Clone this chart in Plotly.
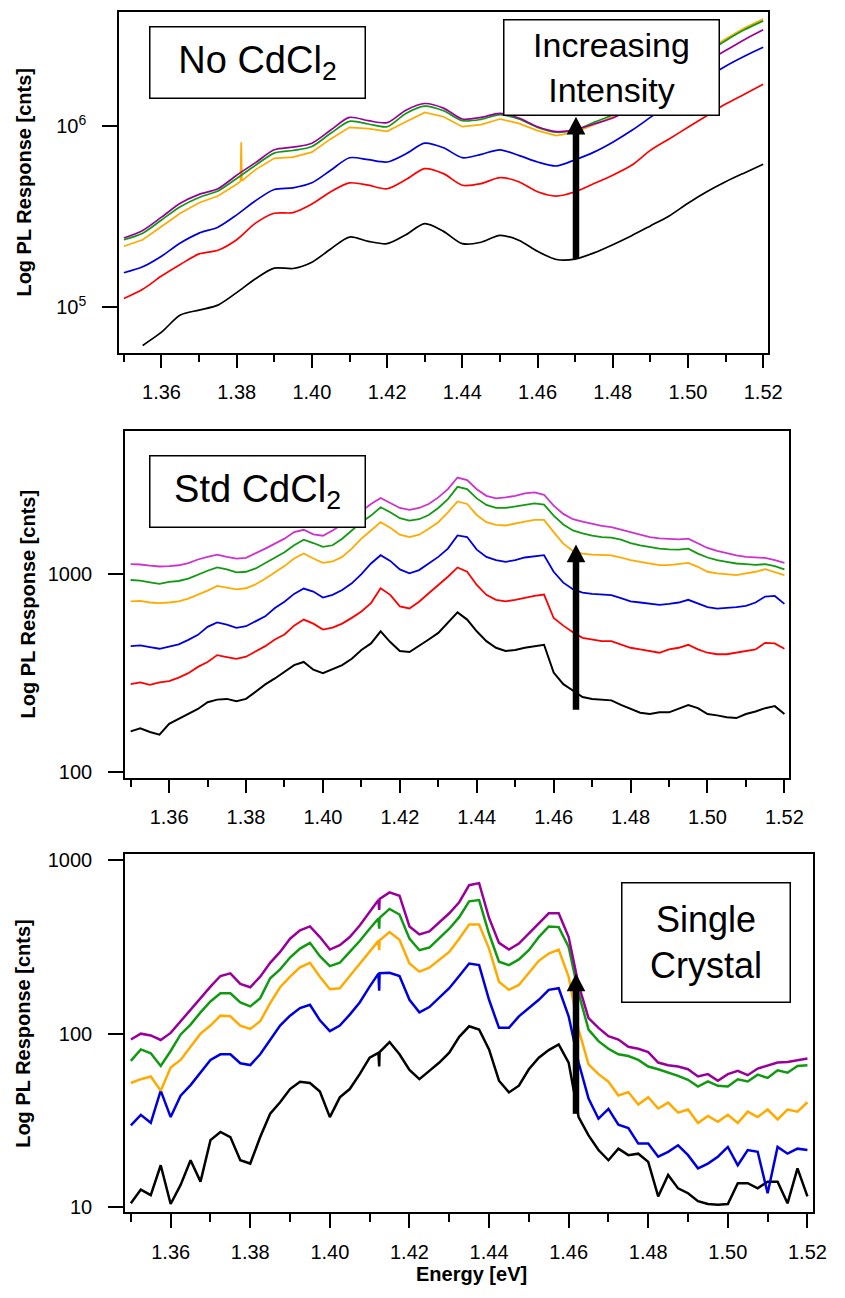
import plotly.graph_objects as go

# ---------------- data ----------------
# Panel 1 : No CdCl2  (energy grid, eV)
E1 = [1.350, 1.355, 1.360, 1.365, 1.370, 1.375, 1.380, 1.385, 1.390, 1.395,
      1.400, 1.405, 1.410, 1.415, 1.420, 1.425, 1.430, 1.435, 1.440, 1.445,
      1.450, 1.455, 1.460, 1.465, 1.470, 1.475, 1.480, 1.485, 1.490, 1.495,
      1.500, 1.505, 1.510, 1.515, 1.520]
black1 = [None, 61.7e3, 73.0e3, 90.8e3, 96.7e3, 103e3, 120.8e3, 144.1e3, 164.8e3, 164.1e3,
          177.8e3, 210.4e3, 244.7e3, 231.7e3, 224.9e3, 252e3, 290e3, 263e3, 225e3, 229e3,
          250e3, 235e3, 204e3, 184e3, 185e3, 200e3, 222e3, 249e3, 282e3, 320e3,
          376e3, 435e3, 494e3, 553e3, 617e3]
red1 = [112e3, 126e3, 149e3, 172.6e3, 197.5e3, 206.8e3, 236.6e3, 291.9e3, 331.1e3, 333.9e3,
        372.4e3, 435e3, 487e3, 473e3, 452e3, 508e3, 584e3, 548e3, 473e3, 483e3,
        521e3, 494e3, 435e3, 412e3, 435e3, 483e3, 537e3, 609e3, 736e3, 852e3,
        987e3, 1.144e6, 1.326e6, 1.503e6, 1.705e6]
blue1 = [155.4e3, 167.6e3, 191.8e3, 226.8e3, 257.3e3, 277.5e3, 324.3e3, 388.4e3, 448.1e3, 457.6e3,
         487.4e3, 571.8e3, 670.6e3, 654e3, 635e3, 705e3, 807e3, 761e3, 671e3, 700e3,
         742e3, 691e3, 635e3, 604e3, 654e3, 720e3, 817e3, 947e3, 1.12e6, 1.326e6,
         1.581e6, 1.854e6, 2.148e6, 2.437e6, 2.73e6]
orange1 = [217.5e3, 236.6e3, 280e3, 331e3, 378.7e3, 412e3, 479e3, 576.6e3, 665e3, 676e3,
           720e3, 852e3, 987e3, 970e3, 938e3, 1.06e6, 1.193e6, 1.129e6, 995e3, 1.021e6,
           1.097e6, 1.038e6, 947e3, 889e3, 927e3, 1.021e6, 1.129e6, 1.326e6, 1.555e6, 1.839e6,
           2.194e6, 2.618e6, 3.033e6, 3.484e6, 3.917e6]
green1 = [236.6e3, 257e3, 304e3, 360e3, 405e3, 439e3, 515e3, 609e3, 711e3, 735.5e3,
          774e3, 915e3, 1.065e6, 1.03e6, 995e3, 1.178e6, 1.292e6, 1.218e6, 1.074e6, 1.092e6,
          1.159e6, 1.097e6, 987e3, 927e3, 955e3, 1.052e6, 1.159e6, 1.336e6, 1.555e6, 1.816e6,
          2.148e6, 2.541e6, 2.97e6, 3.41e6, 3.82e6]
purple1 = [241.6e3, 266e3, 315e3, 375.7e3, 420.7e3, 452e3, 537e3, 630e3, 742e3, 767e3,
           807e3, 954e3, 1.12e6, 1.074e6, 1.047e6, 1.228e6, 1.336e6, 1.26e6, 1.097e6, 1.12e6,
           1.178e6, 1.111e6, 995e3, 935e3, 955e3, 1.03e6, 1.111e6, 1.26e6, 1.441e6, 1.67e6,
           1.95e6, 2.27e6, 2.618e6, 3.007e6, 3.41e6]
spike1_E = [1.3810, 1.3812, 1.3814]
spike1_orange = [497e3, 817e3, 500e3]

# Panel 2 : Std CdCl2
E2 = [1.3500, 1.3525, 1.3550, 1.3575, 1.3600, 1.3625, 1.3650, 1.3675, 1.3700, 1.3725,
      1.3750, 1.3775, 1.3800, 1.3825, 1.3850, 1.3875, 1.3900, 1.3925, 1.3950, 1.3975,
      1.4000, 1.4025, 1.4050, 1.4075, 1.4100, 1.4125, 1.4150, 1.4175, 1.4200, 1.4225,
      1.4250, 1.4275, 1.4300, 1.4325, 1.4350, 1.4375, 1.4400, 1.4425, 1.4450, 1.4475,
      1.4500, 1.4525, 1.4550, 1.4575, 1.4600, 1.4625, 1.4650, 1.4675, 1.4700, 1.4725,
      1.4750, 1.4775, 1.4800, 1.4825, 1.4850, 1.4875, 1.4900, 1.4925, 1.4950, 1.4975,
      1.5000, 1.5025, 1.5050, 1.5075, 1.5100, 1.5125, 1.5150, 1.5175, 1.5200]
black2 = [161, 167, 160, 155, 176, 186, 197, 209, 226, 233,
          235, 229, 235, 255, 278, 298, 322, 348, 361, 330,
          317, 332, 348, 375, 415, 448, 516, 455, 410, 405,
          434, 469, 506, 568, 643, 591, 516, 460, 426, 410,
          415, 426, 434, 441, 319, 279, 259, 240, 235, 233,
          231, 219, 209, 200, 197, 201, 201, 209, 219, 211,
          197, 194, 190, 188, 197, 203, 211, 216, 197]
red2 = [279, 285, 277, 285, 289, 301, 317, 341, 361, 391,
        382, 374, 384, 407, 434, 469, 497, 551, 591, 564,
        526, 539, 564, 603, 650, 716, 851, 788, 689, 673,
        727, 803, 884, 973, 1084, 1031, 884, 788, 744, 730,
        744, 764, 779, 791, 602, 551, 510, 478, 469, 460,
        460, 443, 426, 418, 410, 402, 418, 426, 441, 418,
        402, 395, 395, 402, 410, 418, 451, 448, 421]
blue2 = [434, 438, 429, 421, 432, 443, 467, 495, 543, 572,
         558, 537, 547, 577, 614, 676, 727, 797, 848, 819,
         764, 788, 834, 901, 1004, 1135, 1250, 1170, 1059, 1012,
         1051, 1135, 1226, 1349, 1574, 1544, 1334, 1226, 1180, 1157,
         1180, 1217, 1235, 1250, 1031, 908, 841, 809, 797, 788,
         785, 758, 730, 721, 710, 702, 710, 721, 744, 716,
         684, 671, 676, 684, 694, 721, 773, 778, 710]
orange2 = [730, 735, 721, 716, 721, 730, 755, 788, 828, 874,
           857, 841, 851, 891, 951, 1027, 1101, 1202, 1274, 1202,
           1144, 1162, 1226, 1349, 1515, 1667, 1835, 1719, 1586, 1544,
           1586, 1699, 1835, 2059, 2337, 2268, 1996, 1835, 1779, 1766,
           1813, 1849, 1886, 1886, 1636, 1430, 1314, 1274, 1259, 1249,
           1249, 1217, 1180, 1157, 1135, 1113, 1113, 1126, 1144, 1092,
           1031, 1012, 1004, 992, 1012, 1031, 1063, 1031, 992]
green2 = [937, 930, 912, 895, 916, 926, 951, 1000, 1043, 1084,
          1059, 1023, 1031, 1072, 1144, 1217, 1294, 1403, 1497, 1440,
          1376, 1403, 1515, 1667, 1835, 1982, 2182, 2059, 1922, 1870,
          1899, 1996, 2165, 2402, 2768, 2694, 2421, 2242, 2165, 2165,
          2199, 2251, 2286, 2251, 1982, 1786, 1667, 1611, 1568, 1544,
          1532, 1497, 1440, 1403, 1376, 1349, 1339, 1334, 1349, 1274,
          1217, 1180, 1157, 1135, 1126, 1118, 1126, 1101, 1059]
magenta2 = [1126, 1122, 1107, 1096, 1100, 1112, 1140, 1189, 1226, 1259,
            1226, 1202, 1211, 1274, 1349, 1430, 1515, 1636, 1680, 1592,
            1568, 1667, 1786, 1928, 2083, 2268, 2431, 2284, 2165, 2116,
            2165, 2268, 2449, 2694, 3085, 2993, 2694, 2494, 2421, 2449,
            2494, 2563, 2594, 2525, 2224, 2021, 1899, 1849, 1800, 1759,
            1733, 1680, 1630, 1580, 1544, 1520, 1515, 1502, 1515, 1430,
            1360, 1314, 1279, 1249, 1226, 1216, 1211, 1180, 1144]

# Panel 3 : Single Crystal
E3 = [1.3500, 1.3525, 1.3550, 1.3575, 1.3600, 1.3625, 1.3650, 1.3675, 1.3700, 1.3725,
      1.3750, 1.3775, 1.3800, 1.3825, 1.3850, 1.3875, 1.3900, 1.3925, 1.3950, 1.3975,
      1.4000, 1.4025, 1.4050, 1.4075, 1.4100, 1.4125, 1.4150, 1.4175, 1.4200, 1.4225,
      1.4250, 1.4275, 1.4300, 1.4325, 1.4350, 1.4375, 1.4400, 1.4425, 1.4450, 1.4475,
      1.4500, 1.4525, 1.4550, 1.4575, 1.4600, 1.4625, 1.4650, 1.4675, 1.4700, 1.4725,
      1.4750, 1.4775, 1.4800, 1.4825, 1.4850, 1.4875, 1.4900, 1.4925, 1.4950, 1.4975,
      1.5000, 1.5025, 1.5050, 1.5075, 1.5100, 1.5125, 1.5150, 1.5175, 1.5200]
black3 = [10.5, 12.6, 11.7, 17.4, 10.4, 13.4, 18.6, 14.0, 24.3, 27.1,
          25.3, 18.6, 17.8, 25.3, 34.5, 40.2, 47.9, 52.8, 51.9, 46.3,
          33.0, 42.9, 47.9, 58.4, 72.7, 78.3, 89.4, 76.0, 61.8, 54.6,
          61.0, 68.1, 77.7, 95.9, 110.3, 105.6, 81.1, 53.5, 45.8, 50.1,
          62.3, 72.7, 80.4, 86.7, 68.1, 33.0, 25.9, 21.3, 18.6, 21.7,
          19.9, 20.3, 18.2, 11.5, 15.3, 12.8, 12.0, 10.8, 10.4, 10.3,
          10.4, 13.7, 13.7, 12.8, 14.0, 14.0, 10.5, 16.7, 11.5]
blue3 = [29.6, 34.0, 30.6, 46.9, 33.0, 43.9, 50.5, 59.7, 70.5, 76.0,
         76.0, 67.5, 65.9, 76.0, 91.8, 111.3, 127, 140.4, 146.8, 119.4,
         103.3, 111.3, 128.7, 151.4, 186.9, 223, 224.7, 215.1, 156.8, 132.7,
         142.3, 160.3, 182.8, 215.1, 254, 248.6, 156.8, 108, 108, 125.9,
         140.4, 156.8, 178.9, 182.8, 126, 68.1, 42.2, 32.3, 36.8, 29.8,
         28.5, 23.2, 23.2, 19.5, 20.8, 22.7, 19.9, 16.7, 17.8, 19.5,
         22.2, 17.4, 21.3, 20.8, 12.0, 22.2, 20.3, 21.7, 21.3]
orange3 = [51.9, 54.6, 56.6, 46.9, 63.7, 70.5, 84.0, 100, 111.3, 127,
           125.9, 111.3, 106.5, 117.9, 150, 185.2, 213.2, 241.1, 256.4, 213.2,
           180.4, 182.8, 215.1, 252, 296.3, 345.5, 385.7, 348.5, 254, 227.8,
           240, 268, 296.3, 353.2, 426.6, 426.6, 309.6, 199.5, 178.9, 191,
           223, 263.2, 290, 305.5, 213, 105.6, 66.5, 58.4, 52.8, 44.0,
           46.0, 39.0, 43.0, 37.0, 40.0, 35.0, 36.5, 30.5, 33.5, 31.0,
           34.0, 30.5, 35.5, 33.0, 36.5, 32.0, 36.5, 35.5, 40.2]
green3 = [69.6, 81.1, 77.0, 65.1, 79.4, 98.9, 112.8, 132.7, 153.4, 171,
          171, 151.4, 143.6, 160.3, 208.6, 234.8, 275, 309.6, 334, 280,
          245.4, 256.4, 296.3, 342.4, 402.9, 465.8, 524.4, 486.7, 353.2, 303,
          313.8, 357.8, 402.9, 469.9, 580, 590, 377, 260, 248.6, 268,
          303, 361, 415.5, 412, 316, 171, 105.6, 90.5, 81.8, 76.0,
          74.3, 70.5, 64.6, 62.3, 59.7, 57.1, 54.2, 49.5, 53.0, 50.0,
          49.6, 54.5, 53.0, 58.0, 55.5, 61.5, 59.5, 65.0, 65.7]
purple3 = [92.5, 100, 97.7, 91.9, 101, 117.9, 137.4, 160.3, 186.9, 215.1,
           223, 193.5, 185.2, 213.2, 256.3, 296.3, 353.2, 394.2, 415.5, 361,
           305.5, 323.6, 361, 421, 502, 598, 653, 625, 415.5, 374,
           389, 440, 495, 573, 719, 739, 465, 334, 305.5, 331,
           377, 434, 495, 495, 361, 191, 123, 108, 96.8, 92.5,
           84.0, 81.8, 78.3, 68.1, 65.7, 64.6, 62.3, 56.6, 58.4, 53.5,
           58.4, 61.0, 57.6, 62.9, 65.7, 68.1, 68.7, 70.5, 71.8]
dip3_E = [1.4122, 1.4124]
dip3_black = [77.5, 64.6]
dip3_blue = [222, 177]
dip3_orange = [343, 303]
dip3_green = [462, 403]
dip3_purple = [590, 517]

# ---------------- styling ----------------
W, H = 845, 1298
FONT = "Arial, Liberation Sans, Helvetica, sans-serif"
C_BLACK, C_RED, C_BLUE = "#000000", "#ff0000", "#0000dd"
C_ORANGE, C_GREEN, C_PURPLE, C_MAGENTA = "#ffaa00", "#119911", "#990099", "#cc33cc"


def px(x):
    return x / W


def py(y):
    return 1 - y / H


def merged(E, vals, extraE, extraV):
    pts = sorted(list(zip(E, vals)) + list(zip(extraE, extraV)), key=lambda p: p[0])
    return [p[0] for p in pts], [p[1] for p in pts]


fig = go.Figure()


def add(x, y, color, width, ax, shape="linear"):
    line = dict(color=color, width=width, shape=shape)
    if shape == "spline":
        line["smoothing"] = 0.8
    fig.add_trace(go.Scatter(x=x, y=y, mode="lines", line=line,
                             xaxis="x" + ax, yaxis="y" + ax, hoverinfo="skip",
                             showlegend=False, connectgaps=False))


# panel 1 (smooth spectra)
lw1 = 1.7
add(E1, black1, C_BLACK, lw1, "", "spline")
add(E1, red1, C_RED, lw1, "", "spline")
add(E1, blue1, C_BLUE, lw1, "", "spline")
xo, yo = merged(E1, orange1, spike1_E, spike1_orange)
add(xo, yo, C_ORANGE, lw1, "")
add(E1, green1, C_GREEN, lw1, "", "spline")
add(E1, purple1, C_PURPLE, lw1, "", "spline")

# panel 2
lw2 = 1.8
add(E2, black2, C_BLACK, 2.0, "2")
add(E2, red2, C_RED, lw2, "2")
add(E2, blue2, C_BLUE, lw2, "2")
add(E2, orange2, C_ORANGE, lw2, "2")
add(E2, green2, C_GREEN, lw2, "2")
add(E2, magenta2, C_MAGENTA, lw2, "2")

# panel 3
lw3 = 2.5
for vals, dips, col in [(black3, dip3_black, C_BLACK), (blue3, dip3_blue, C_BLUE),
                        (orange3, dip3_orange, C_ORANGE), (green3, dip3_green, C_GREEN),
                        (purple3, dip3_purple, C_PURPLE)]:
    xx, yy = merged(E3, vals, dip3_E, dips)
    add(xx, yy, col, lw3, "3")

# ---------------- axes ----------------
tickfont = dict(family=FONT, size=20, color="black")


def xaxis(dom, rng, anchor):
    return dict(domain=dom, range=rng, anchor=anchor, showgrid=False, zeroline=False,
                showline=True, linecolor="black", linewidth=1.5, mirror=True,
                ticks="outside", ticklen=14, tickwidth=1.5, tickcolor="black",
                tickmode="linear", tick0=1.36, dtick=0.02, tickformat=".2f",
                minor=dict(ticks="outside", tick0=1.35, dtick=0.01, ticklen=8,
                           tickwidth=1.5, tickcolor="black", showgrid=False),
                tickfont=tickfont, ticklabelstandoff=7)


def yaxis(dom, rng, anchor, tv, tt):
    return dict(domain=dom, range=rng, anchor=anchor, type="log", showgrid=False,
                zeroline=False, showline=True, linecolor="black", linewidth=1.5,
                mirror=True, ticks="outside", ticklen=15, tickwidth=1.5,
                tickcolor="black", tickmode="array", tickvals=tv, ticktext=tt,
                tickfont=tickfont, ticklabelstandoff=12)


layout = dict(
    width=W, height=H, margin=dict(l=0, r=0, t=0, b=0),
    paper_bgcolor="white", plot_bgcolor="white", showlegend=False,
    font=dict(family=FONT, color="black"),
    xaxis=xaxis([px(121), px(781)], [1.3487, 1.5213], "y"),
    yaxis=yaxis([py(350.7), py(6.7)], [4.75, 6.633], "x",
                [1e5, 1e6], ["10<sup>5</sup>", "10<sup>6</sup>"]),
    xaxis2=xaxis([px(127), px(802.7)], [1.3485, 1.5213], "y2"),
    yaxis2=yaxis([py(779.3), py(429.3)], [1.973, 3.726], "x2",
                 [100, 1000], ["100", "1000"]),
    xaxis3=xaxis([px(127), px(826.7)], [1.3485, 1.5214], "y3"),
    yaxis3=yaxis([py(1217.3), py(856.7)], [0.971, 3.034], "x3",
                 [10, 100, 1000], ["10", "100", "1000"]),
)
fig.update_layout(**layout)

# ---------------- annotations ----------------
ann = []


def box(cx, cy, w, h, text, size):
    ann.append(dict(x=px(cx), y=py(cy), xref="paper", yref="paper", text=text,
                    showarrow=False, xanchor="center", yanchor="middle",
                    font=dict(family=FONT, size=size, color="black"),
                    bordercolor="black", borderwidth=1.5, borderpad=0,
                    bgcolor="white", width=w, height=h, align="center", valign="middle"))


box(261.7, 58.3, 214, 70, "No CdCl<sub>2</sub>", 38)
box(622, 62.9, 214, 94, "Increasing<br>Intensity", 34)
box(261.7, 490.3, 214, 70, "Std CdCl<sub>2</sub>", 38)
box(717.8, 946, 167, 118, "Single<br>Crystal", 36)


def ytitle(cx, cy):
    ann.append(dict(x=px(cx), y=py(cy), xref="paper", yref="paper",
                    text="<b>Log PL Response [cnts]</b>", textangle=-90, showarrow=False,
                    xanchor="center", yanchor="middle",
                    font=dict(family=FONT, size=20, color="black")))


ytitle(24, 178.5)
ytitle(28, 604)
ytitle(24, 1037)
ann.append(dict(x=px(479), y=py(1280), xref="paper", yref="paper",
                text="<b>Energy [eV]</b>", showarrow=False, xanchor="center",
                yanchor="middle", font=dict(family=FONT, size=20, color="black")))
fig.update_layout(annotations=ann)

# arrows
shapes = []


def arrow(xc, y_tip, y_tail):
    shapes.append(dict(type="rect", xref="paper", yref="paper",
                       x0=px(xc - 3.3), x1=px(xc + 3.3), y0=py(y_tail), y1=py(y_tip + 16),
                       fillcolor="black", line=dict(width=0)))
    shapes.append(dict(type="path", xref="paper", yref="paper",
                       path=f"M {px(xc - 9.5)},{py(y_tip + 18)} L {px(xc + 9.5)},{py(y_tip + 18)} "
                            f"L {px(xc)},{py(y_tip)} Z",
                       fillcolor="black", line=dict(width=0)))


arrow(585.7, 112.7, 256)
arrow(585.7, 544, 710.7)
arrow(585.7, 976.7, 1118.3)
fig.update_layout(shapes=shapes)

fig.write_html("out.html")
